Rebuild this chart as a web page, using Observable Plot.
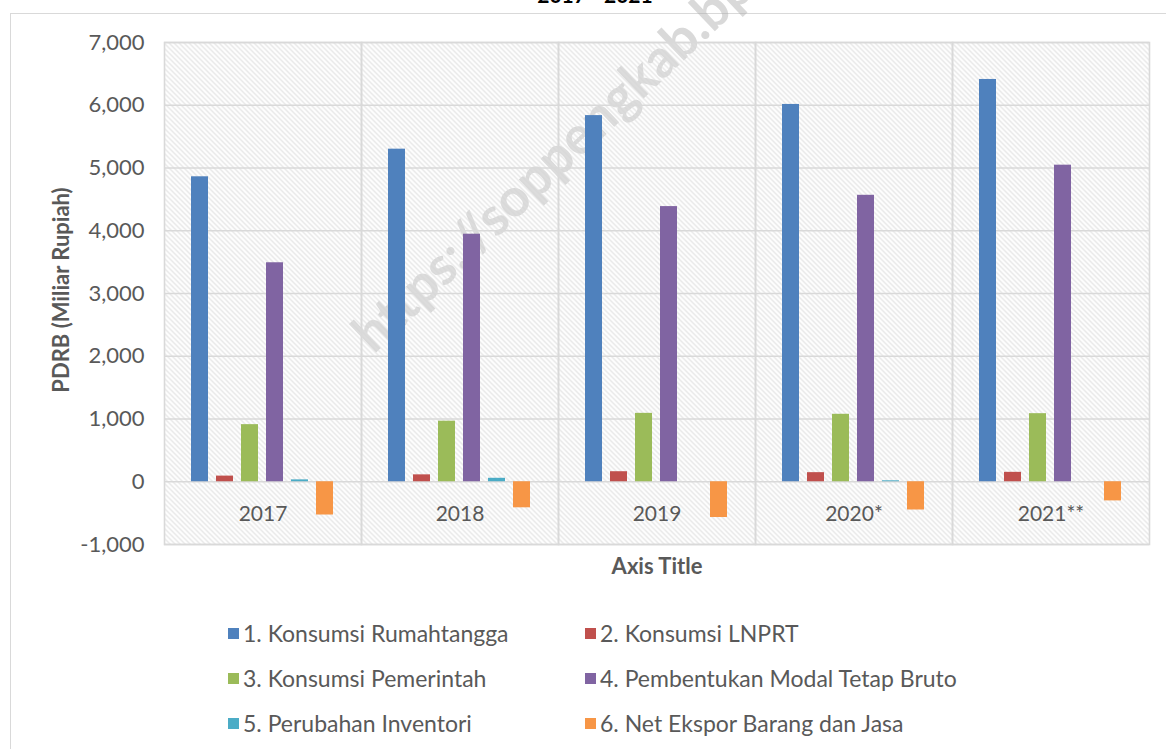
<!DOCTYPE html>
<html>
<head>
<meta charset="utf-8">
<script src="https://cdn.jsdelivr.net/npm/d3@7"></script>
<script src="https://cdn.jsdelivr.net/npm/@observablehq/plot@0.6"></script>
<style>
  html, body { margin: 0; padding: 0; background: #fff; overflow: hidden; width: 1166px; height: 749px; }
  body { position: relative; font-family: Lato, "Open Sans", sans-serif; color: #595959; }
  #frame { position: absolute; left: 10px; top: 13px; width: 1200px; height: 800px; border: 1.5px solid #d9d9d9; box-sizing: border-box; }
  #title { position: absolute; top: -18px; left: 0; width: 1190px; text-align: center; font-weight: bold; font-size: 21px; color: #000; }
  #chart { position: absolute; left: 0; top: 0; }
  #ylabel { position: absolute; left: 60px; top: 290px; transform: translate(-50%, -50%) rotate(-90deg); font-weight: bold; font-size: 22px; white-space: nowrap; }
  #xlabel { position: absolute; left: 657px; top: 565px; transform: translate(-50%, -50%); font-weight: bold; font-size: 22px; white-space: nowrap; }
  #legend { position: absolute; left: 228px; top: 619px; display: grid; grid-template-columns: 357px 420px; row-gap: 17px; font-size: 23px; }
  .item { display: flex; align-items: center; height: 28px; white-space: nowrap; }
  .sw { width: 11px; height: 11px; margin-right: 4px; flex: none; }
  #watermark { position: absolute; left: 338px; top: 317px; transform-origin: 0 0; transform: rotate(-43.5deg); font-size: 53px; font-weight: bold; color: rgba(170,170,170,0.45); white-space: nowrap; pointer-events: none; font-family: Lato, sans-serif; }
</style>
</head>
<body>
<div id="frame"></div>
<div id="title">2017 - 2021</div>
<div id="watermark">https://soppengkab.bps.go.id</div>
<div id="chart"></div>
<div id="ylabel">PDRB (Miliar Rupiah)</div>
<div id="xlabel">Axis Title</div>
<div id="legend"></div>
<script>
const years = ["2017", "2018", "2019", "2020*", "2021**"];
const seriesNames = [
  "1. Konsumsi Rumahtangga",
  "2. Konsumsi LNPRT",
  "3. Konsumsi Pemerintah",
  "4. Pembentukan Modal Tetap Bruto",
  "5. Perubahan Inventori",
  "6. Net Ekspor Barang dan Jasa"
];
const seriesColors = ["#4F81BD", "#C0504D", "#9BBB59", "#8064A2", "#4BACC6", "#F79646"];
const rumahtangga = [4860, 5300, 5835, 6013, 6411];
const lnprt = [90, 110, 160, 145, 150];
const pemerintah = [910, 965, 1090, 1075, 1085];
const pmtb = [3490, 3945, 4385, 4565, 5045];
const inventori = [30, 55, 0, 15, 0];
const netEkspor = [-530, -415, -570, -450, -305];
const yTicks = [-1000, 0, 1000, 2000, 3000, 4000, 5000, 6000, 7000];

const seriesValues = [rumahtangga, lnprt, pemerintah, pmtb, inventori, netEkspor];
const data = [];
years.forEach((yr, i) => {
  seriesNames.forEach((s, j) => data.push({year: yr, series: s, value: seriesValues[j][i]}));
});
const yearRows = years.map(y => ({year: y, zero: 0}));
const fmt = d3.format(",");

const svg = Plot.plot({
  width: 1166,
  height: 590,
  marginLeft: 163,
  marginRight: 16,
  marginTop: 42,
  marginBottom: 46,
  style: {fontFamily: "Lato, 'Open Sans', sans-serif", background: "transparent"},
  fx: {domain: years, padding: 0, axis: null},
  x: {domain: seriesNames, paddingInner: 0.31, paddingOuter: 0.955, axis: null},
  y: {domain: [-1000, 7000], ticks: yTicks, axis: null},
  color: {domain: seriesNames, range: seriesColors},
  marks: [
    Plot.frame({fill: "url(#hatch)", stroke: null}),
    Plot.ruleY(yTicks, {stroke: "#d9d9d9", strokeWidth: 1.6}),
    Plot.frame({stroke: "#d9d9d9", strokeWidth: 1.6}),
    Plot.barY(data, {fx: "year", x: "series", y: "value", fill: "series"}),
    Plot.text(yearRows, {fx: "year", y: "zero", text: "year", dy: 33, fontSize: 21, fill: "#595959"}),
    Plot.axisY({ticks: yTicks, tickFormat: d => fmt(d).replace("\u2212", "-"), tickSize: 0, tickPadding: 20, fontSize: 22, label: null, color: "#595959"})
  ]
});

const ns = "http://www.w3.org/2000/svg";
const defs = document.createElementNS(ns, "defs");
defs.innerHTML = '<pattern id="hatch" patternUnits="userSpaceOnUse" width="5" height="5">' +
  '<path d="M-1,-1 L6,6 M-1,4 L1,6 M4,-1 L6,1" stroke="#dedede" stroke-width="1.1"/></pattern>';
svg.insertBefore(defs, svg.firstChild);
document.getElementById("chart").appendChild(svg);

const legend = document.getElementById("legend");
seriesNames.forEach((s, j) => {
  const item = document.createElement("div");
  item.className = "item";
  const sw = document.createElement("span");
  sw.className = "sw";
  sw.style.background = seriesColors[j];
  const t = document.createElement("span");
  t.textContent = s;
  item.appendChild(sw);
  item.appendChild(t);
  legend.appendChild(item);
});
</script>
</body>
</html>
